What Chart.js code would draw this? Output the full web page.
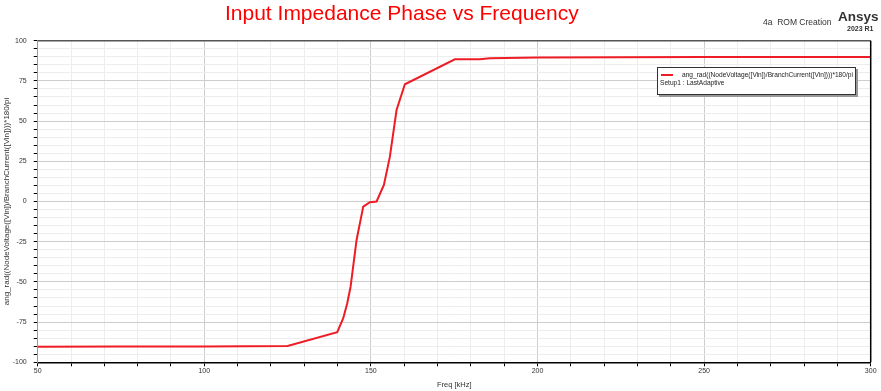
<!DOCTYPE html>
<html>
<head>
<meta charset="utf-8">
<title>Input Impedance Phase vs Frequency</title>
<script src="https://cdn.jsdelivr.net/npm/chart.js@4.4.1/dist/chart.umd.min.js"></script>
<style>
  body { margin: 0; background: #fff; font-family: "Liberation Sans", Arial, sans-serif; }
  #wrap { position: relative; width: 881px; height: 391px; }
  .txt { position: absolute; white-space: nowrap; color: #333; }
  #title { left: 225px; top: 1px; font-size: 21px; color: #ff0000; }
  #proj { left: 763px; top: 17px; font-size: 8.5px; }
  #brand { left: 838px; top: 9px; font-size: 13.5px; font-weight: bold; }
  #release { left: 847px; top: 25px; font-size: 7px; font-weight: bold; }
  #legend {
    position: absolute; left: 657px; top: 67px; width: 197px; height: 26px;
    background: #fff; border: 1px solid #333; box-shadow: 2px 2px 0 #999;
    font-size: 6.6px; color: #222;
  }
  #legend .swatch { position: absolute; left: 3px; top: 6px; width: 12px; height: 2px; background: #ee1c24; }
  #legend .l1 { position: absolute; left: 24px; top: 3px; }
  #legend .l2 { position: absolute; left: 2px; top: 11px; }
</style>
</head>
<body>
<div id="wrap">
  <canvas id="phaseChart"></canvas>
  <div class="txt" id="title">Input Impedance Phase vs Frequency</div>
  <div class="txt" id="proj">4a&nbsp; ROM Creation</div>
  <div class="txt" id="brand">Ansys</div>
  <div class="txt" id="release">2023 R1</div>
  <div id="legend">
    <div class="swatch"></div>
    <div class="l1">ang_rad((NodeVoltage([Vin])/BranchCurrent([Vin])))*180/pi</div>
    <div class="l2">Setup1 : LastAdaptive</div>
  </div>
</div>
<script>
// sweep points
const freqKHz = [50, 75, 100, 125, 139.9, 141.7, 142.9, 143.9, 145.7, 147.7, 149.7, 151.7,
                 153.9, 155.7, 157.7, 160.2, 175.2, 182.7, 185.7, 200, 250, 300];
const phaseDeg = [-90.3, -90.2, -90.1, -89.9, -81.3, -72.6, -63.3, -53, -23.9, -3.2, -0.4, 0,
                  10.3, 27.9, 56.9, 72.9, 88.4, 88.4, 89.1, 89.5, 89.8, 89.9];

const seriesLabel = "ang_rad((NodeVoltage([Vin])/BranchCurrent([Vin])))*180/pi";
const xMajor = 50, yMajor = 25;

const fontFam = '"Liberation Sans", Arial, sans-serif';

// top and right edges of the plot frame
const frameLines = {
  id: "frameLines",
  afterDraw(chart) {
    const { ctx, chartArea: a } = chart;
    ctx.save();
    ctx.lineWidth = 1.5;
    ctx.strokeStyle = "#555";
    ctx.beginPath();
    ctx.moveTo(a.left, a.top);
    ctx.lineTo(a.right, a.top);
    ctx.stroke();
    ctx.strokeStyle = "#000";
    ctx.beginPath();
    ctx.moveTo(a.right, a.top);
    ctx.lineTo(a.right, a.bottom);
    ctx.stroke();
    ctx.restore();
  }
};

new Chart(document.getElementById("phaseChart"), {
  type: "line",
  data: {
    datasets: [{
      label: seriesLabel,
      data: freqKHz.map((f, i) => ({ x: f, y: phaseDeg[i] })),
      borderColor: "#ee1c24",
      borderWidth: 2,
      pointRadius: 0,
      tension: 0,
      fill: false
    }]
  },
  options: {
    responsive: true,
    maintainAspectRatio: false,
    animation: false,
    layout: { padding: { top: 40.7, right: 10.3, bottom: 0, left: 0 } },
    plugins: {
      legend: { display: false },
      tooltip: { enabled: false }
    },
    scales: {
      x: {
        type: "linear",
        min: 50,
        max: 300,
        afterFit: (s) => { s.height = 28.7; },
        ticks: {
          stepSize: 10,
          autoSkip: false,
          maxRotation: 0,
          padding: 1,
          color: "#333",
          font: { family: fontFam, size: 7 },
          callback: (v) => (v % xMajor === 0 ? v : "")
        },
        grid: {
          color: (c) => (c.tick && c.tick.value % xMajor === 0 ? "#cdcdcd" : "#ededed"),
          tickColor: "#000",
          tickLength: 4
        },
        border: { color: "#000", width: 1.5 },
        title: {
          display: true,
          text: "Freq [kHz]",
          color: "#333",
          font: { family: fontFam, size: 7.5 },
          padding: { top: 0, bottom: 2 }
        }
      },
      y: {
        min: -100,
        max: 100,
        afterFit: (s) => { s.width = 37.7; },
        ticks: {
          stepSize: 5,
          autoSkip: false,
          padding: 7,
          color: "#333",
          font: { family: fontFam, size: 7 },
          callback: (v) => (v % yMajor === 0 ? v : "")
        },
        grid: {
          color: (c) => (c.tick && c.tick.value % yMajor === 0 ? "#cdcdcd" : "#ededed"),
          tickColor: "#000",
          tickLength: 4
        },
        border: { color: "#999", width: 1 },
        title: {
          display: true,
          text: seriesLabel,
          color: "#333",
          font: { family: fontFam, size: 8 },
          padding: { top: 2, bottom: 0 }
        }
      }
    }
  },
  plugins: [frameLines]
});
</script>
</body>
</html>
